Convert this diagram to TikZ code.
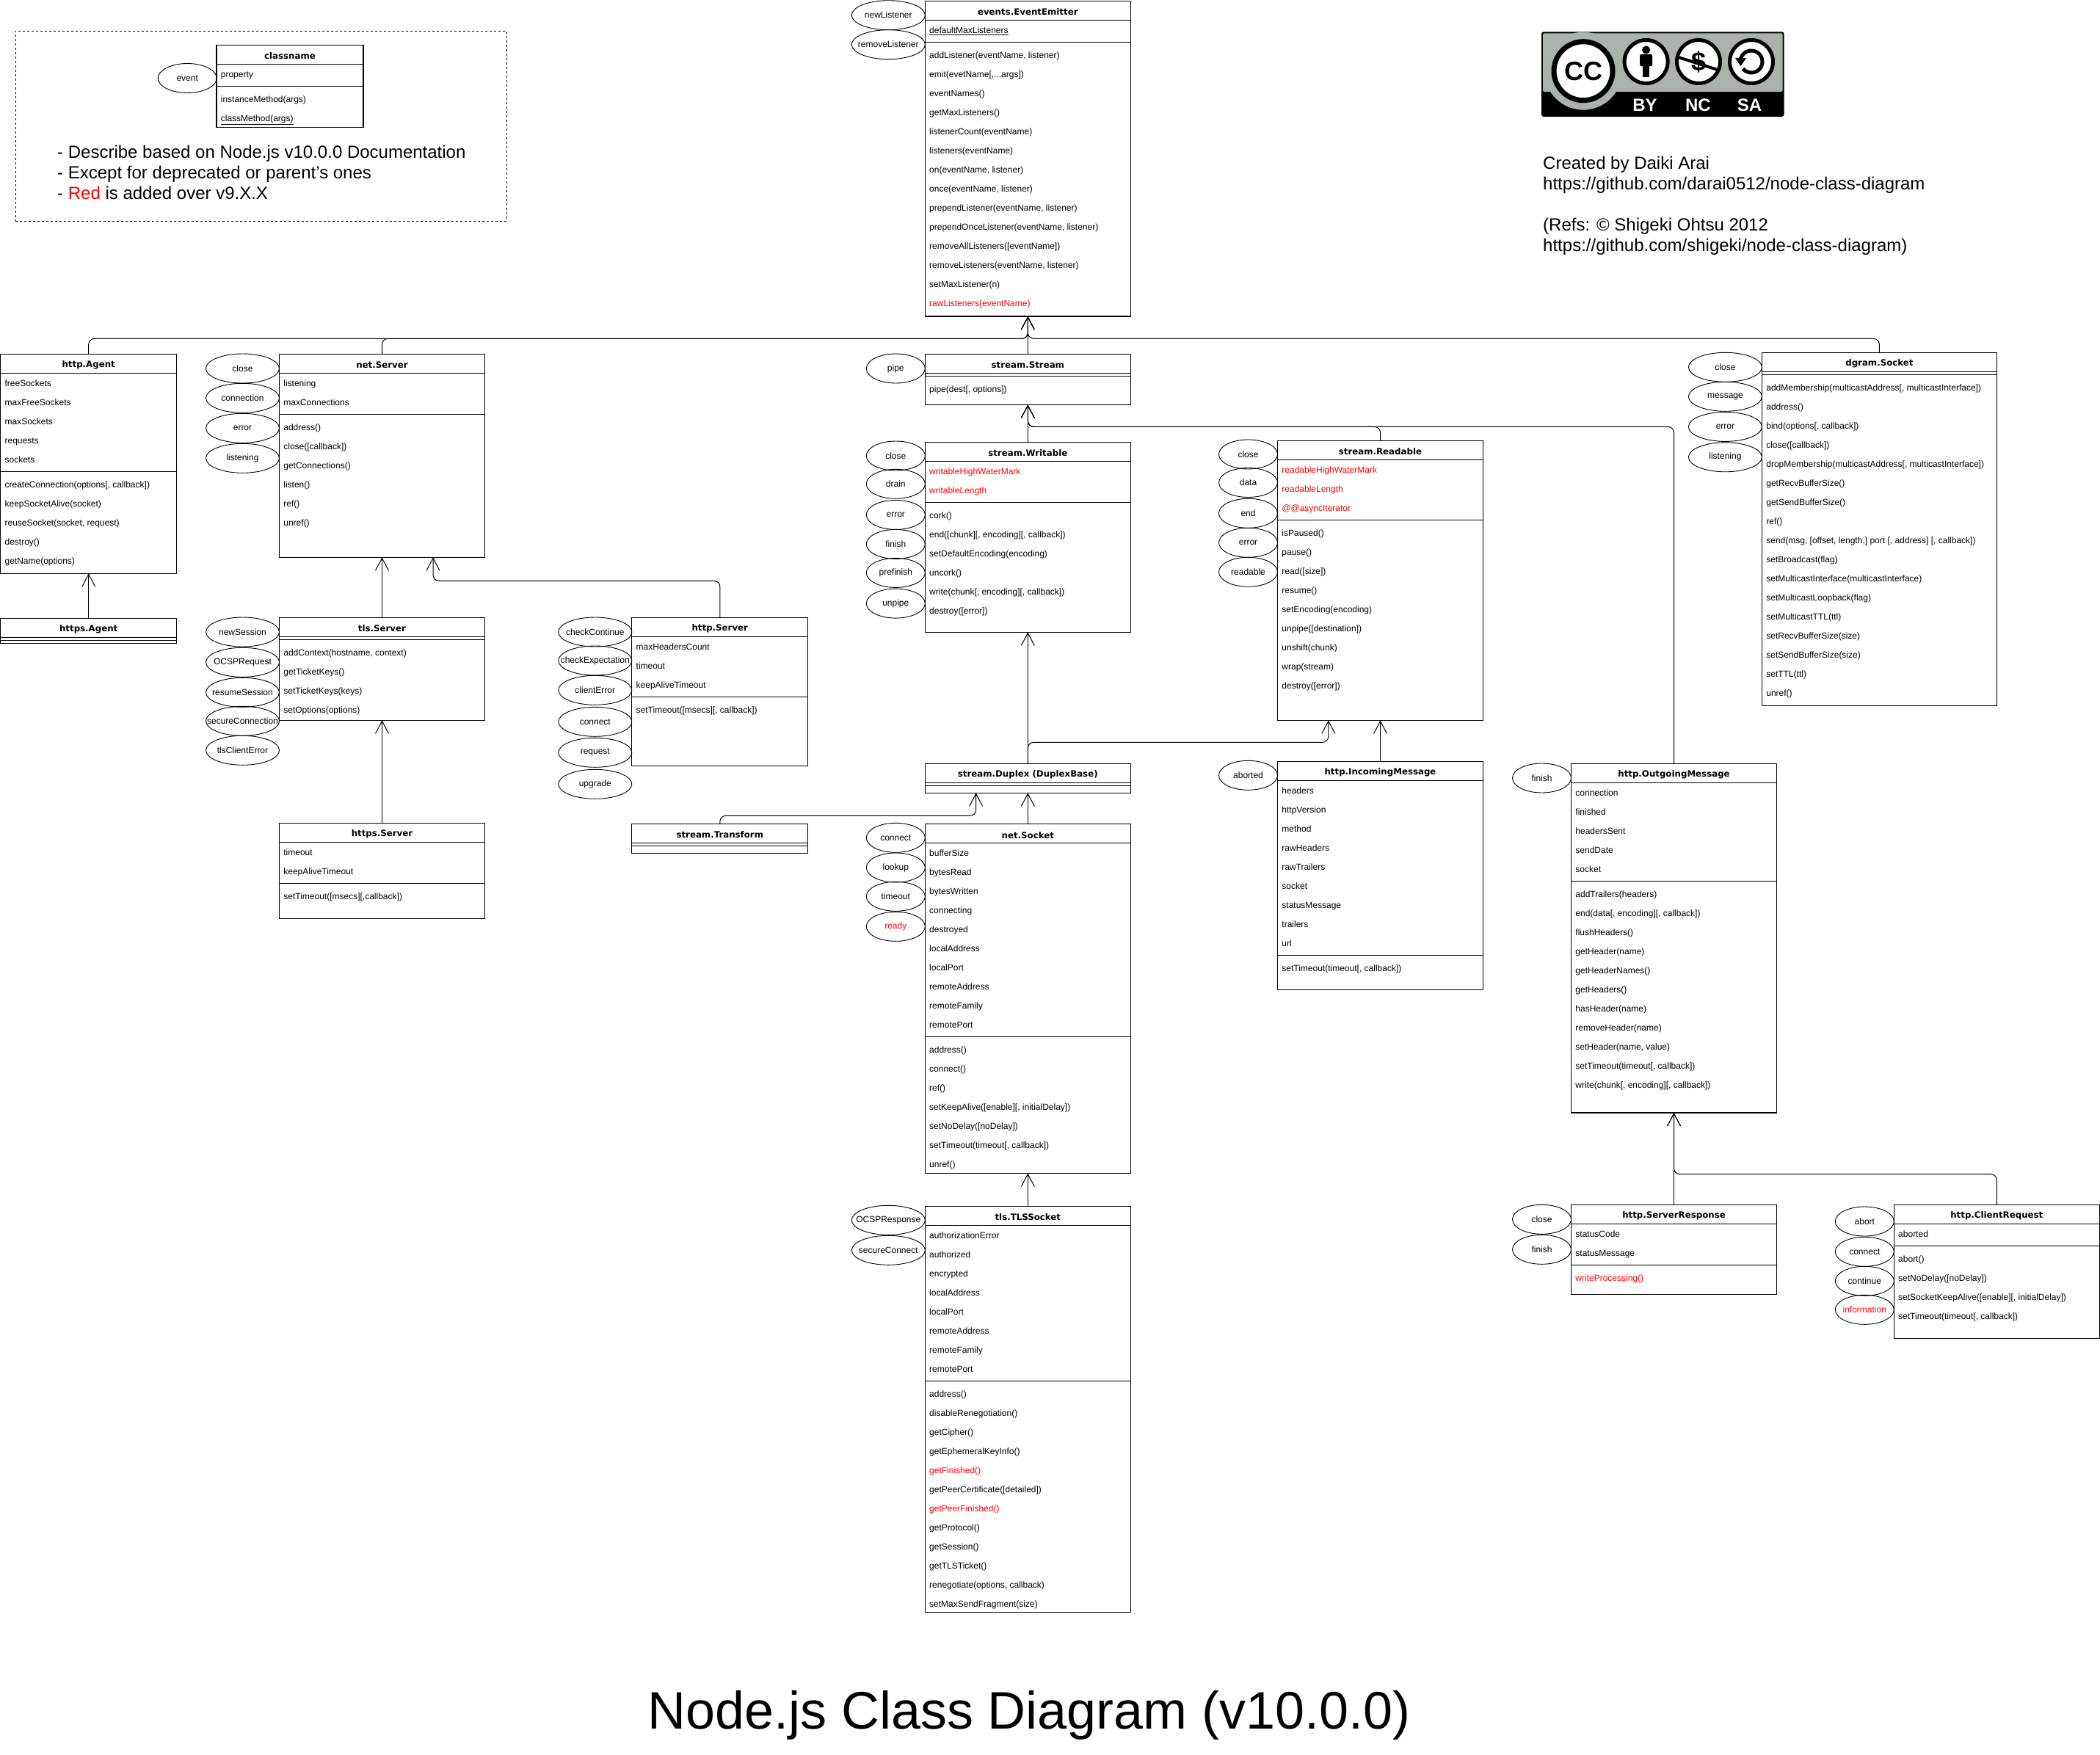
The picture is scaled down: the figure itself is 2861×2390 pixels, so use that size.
\documentclass[tikz,border=0pt]{standalone}
\usepackage{fontspec}
\setmainfont{Liberation Sans}
\newfontfamily\titlefont{DejaVu Sans}
\usetikzlibrary{calc,shapes.geometric,arrows.meta}
\definecolor{ccgray}{HTML}{AAB2AB}
\newcommand{\added}[1]{\textcolor{red}{#1}}
\tikzset{class node/.style={draw,rectangle,anchor=north west,inner sep=0pt,outer sep=0pt,line width=1.1pt},
	class title/.style={inner sep=0pt,font=\titlefont\fontsize{11.8}{14}\selectfont\bfseries},
	class rows/.style={anchor=north west,inner sep=0pt,align=left,font=\fontsize{12}{26}\selectfont,execute at begin node=\rule{0pt}{9pt}},
	class line/.style={line width=1.1pt},
	event node/.style={draw,ellipse,inner sep=0pt,minimum width=100pt,minimum height=40pt,line width=0.9pt,font=\fontsize{12}{14}\selectfont,execute at begin node=\hbox to 0pt\bgroup\hss\lower0.8pt\hbox\bgroup,execute at end node=\egroup\hss\egroup},
	short event/.style={event node,minimum width=80pt},
	inherits/.style={-{Straight Barb[length=17pt,width=18pt]},line width=1pt,rounded corners=8pt},
	big text/.style={inner sep=0pt,anchor=west,align=left,font=\fontsize{24}{28}\selectfont},
	icon ring/.style={draw=black,fill=white,line width=5pt},
}
% name, left, top, width, height, field rows, title, fields, methods
\newcommand{\umlclass}[9]{
	\node[class node,minimum width=#4pt,minimum height=#5pt] (#1) at (#2,#3) {};
	\node[class title] (#1-title) at ($(#1.north)+(0,15)$) {#7};
	\draw[class line] ($(#1.north west)+(0,26)$) -- ++(#4,0);
	\draw[class line] ($(#1.north west)+(0,30+26*#6)$) -- ++(#4,0);
	\node[class rows] (#1-fields) at ($(#1.north west)+(5.7,35.2)$) {#8};
	\node[class rows] (#1-methods) at ($(#1.north west)+(5.7,43.2+26*#6)$) {#9};
}

\begin{document}
\begin{tikzpicture}[x=1pt,y=-1pt]
	\useasboundingbox (0,0) rectangle (2861,2390);

	% legend
	\node[draw,dashed,anchor=north west,inner sep=0pt,minimum width=669pt,minimum height=259pt,line width=0.9pt] (legend) at (20.7,41.7) {};
	\umlclass{sample}{295}{61.3}{200}{112}{1}{classname}{property}{instanceMethod(args)\\\underline{classMethod(args)}}
	\node[short event] (sampleEvent) at (255.2,106.5) {event};
	\node[big text] (legendText) at (78,235) {- Describe based on Node.js v10.0.0 Documentation\\- Except for deprecated or parent's ones\\- \added{Red} is added over v9.X.X};

	% classes
	\umlclass{emitter}{1260.3}{1.5}{280}{429.5}{1}{events.EventEmitter}{\underline{defaultMaxListeners}}{addListener(eventName, listener)\\emit(evetName[,...args])\\eventNames()\\getMaxListeners()\\listenerCount(eventName)\\listeners(eventName)\\on(eventName, listener)\\once(eventName, listener)\\prependListener(eventName, listener)\\prependOnceListener(eventName, listener)\\removeAllListeners([eventName])\\removeListeners(eventName, listener)\\setMaxListener(n)\\\added{rawListeners(eventName)}}
	\umlclass{httpAgent}{0.7}{482.3}{240}{299}{5}{http.Agent}{freeSockets\\maxFreeSockets\\maxSockets\\requests\\sockets}{createConnection(options[, callback])\\keepSocketAlive(socket)\\reuseSocket(socket, request)\\destroy()\\getName(options)}
	\umlclass{httpsAgent}{0.7}{842.3}{240}{34}{0}{https.Agent}{}{}
	\umlclass{netServer}{380.5}{482.3}{280}{277}{2}{net.Server}{listening\\maxConnections}{address()\\close([callback])\\getConnections()\\listen()\\ref()\\unref()}
	\umlclass{tlsServer}{380.5}{841.3}{280}{140}{0}{tls.Server}{}{addContext(hostname, context)\\getTicketKeys()\\setTicketKeys(keys)\\setOptions(options)}
	\umlclass{httpsServer}{380.5}{1121.3}{280}{130}{2}{https.Server}{timeout\\keepAliveTimeout}{setTimeout([msecs][,callback])}
	\umlclass{httpServer}{860.8}{841.3}{240}{202}{3}{http.Server}{maxHeadersCount\\timeout\\keepAliveTimeout}{setTimeout([msecs][, callback])}
	\umlclass{transform}{860.8}{1122.3}{240}{40}{0}{stream.Transform}{}{}
	\umlclass{stream}{1260.3}{482.3}{280}{69}{0}{stream.Stream}{}{pipe(dest[, options])}
	\umlclass{writable}{1260.3}{602.3}{280}{259}{2}{stream.Writable}{\added{writableHighWaterMark}\\\added{writableLength}}{cork()\\end([chunk][, encoding][, callback])\\setDefaultEncoding(encoding)\\uncork()\\write(chunk[, encoding][, callback])\\destroy([error])}
	\umlclass{readable}{1740.5}{600.4}{280}{381}{3}{stream.Readable}{\added{readableHighWaterMark}\\\added{readableLength}\\\added{@@asyncIterator}}{isPaused()\\pause()\\read([size])\\resume()\\setEncoding(encoding)\\unpipe([destination])\\unshift(chunk)\\wrap(stream)\\destroy([error])}
	\umlclass{duplex}{1260.3}{1040.3}{280}{40}{0}{stream.Duplex (DuplexBase)}{}{}
	\umlclass{netSocket}{1260.3}{1122.7}{280}{475.7}{10}{net.Socket}{bufferSize\\bytesRead\\bytesWritten\\connecting\\destroyed\\localAddress\\localPort\\remoteAddress\\remoteFamily\\remotePort}{address()\\connect()\\ref()\\setKeepAlive([enable][, initialDelay])\\setNoDelay([noDelay])\\setTimeout(timeout[, callback])\\unref()}
	\umlclass{tlsSocket}{1260.3}{1643.4}{280}{553.4}{8}{tls.TLSSocket}{authorizationError\\authorized\\encrypted\\localAddress\\localPort\\remoteAddress\\remoteFamily\\remotePort}{address()\\disableRenegotiation()\\getCipher()\\getEphemeralKeyInfo()\\\added{getFinished()}\\getPeerCertificate([detailed])\\\added{getPeerFinished()}\\getProtocol()\\getSession()\\getTLSTicket()\\renegotiate(options, callback)\\setMaxSendFragment(size)}
	\umlclass{incoming}{1740.5}{1037.3}{280}{311}{9}{http.IncomingMessage}{headers\\httpVersion\\method\\rawHeaders\\rawTrailers\\socket\\statusMessage\\trailers\\url}{setTimeout(timeout[, callback])}
	\umlclass{outgoing}{2140.5}{1040.3}{280}{475.7}{5}{http.OutgoingMessage}{connection\\finished\\headersSent\\sendDate\\socket}{addTrailers(headers)\\end(data[, encoding][, callback])\\flushHeaders()\\getHeader(name)\\getHeaderNames()\\getHeaders()\\hasHeader(name)\\removeHeader(name)\\setHeader(name, value)\\setTimeout(timeout[, callback])\\write(chunk[, encoding][, callback])}
	\umlclass{serverResponse}{2140.5}{1641.3}{280}{122}{2}{http.ServerResponse}{statusCode\\statusMessage}{\added{writeProcessing()}}
	\umlclass{clientRequest}{2580.3}{1641.3}{280}{182}{1}{http.ClientRequest}{aborted}{abort()\\setNoDelay([noDelay])\\setSocketKeepAlive([enable][, initialDelay])\\setTimeout(timeout[, callback])}
	\umlclass{dgram}{2400.4}{480.3}{320}{481.4}{0}{dgram.Socket}{}{addMembership(multicastAddress[, multicastInterface])\\address()\\bind(options[, callback])\\close([callback])\\dropMembership(multicastAddress[, multicastInterface])\\getRecvBufferSize()\\getSendBufferSize()\\ref()\\send(msg, [offset, length,] port [, address] [, callback])\\setBroadcast(flag)\\setMulticastInterface(multicastInterface)\\setMulticastLoopback(flag)\\setMulticastTTL(ttl)\\setRecvBufferSize(size)\\setSendBufferSize(size)\\setTTL(ttl)\\unref()}

	% events
	\node[event node] (newListener) at (1210.3,20.7) {newListener};
	\node[event node] (removeListener) at (1210.3,60.7) {removeListener};
	\node[event node] (nsClose) at (330.5,502) {close};
	\node[event node] (nsConnection) at (330.5,542.3) {connection};
	\node[event node] (nsError) at (330.5,583.3) {error};
	\node[event node] (nsListening) at (330.5,624.3) {listening};
	\node[event node] (newSession) at (330.5,861) {newSession};
	\node[event node] (ocspRequest) at (330.5,902.3) {OCSPRequest};
	\node[event node] (resumeSession) at (330.5,943.3) {resumeSession};
	\node[event node] (secureConnection) at (330.5,982.3) {secureConnection};
	\node[event node] (tlsClientError) at (330.5,1022.3) {tlsClientError};
	\node[event node] (checkContinue) at (810.8,861) {checkContinue};
	\node[event node] (checkExpectation) at (810.8,900) {checkExpectation};
	\node[event node] (clientError) at (810.8,940.3) {clientError};
	\node[event node] (hsConnect) at (810.8,983.3) {connect};
	\node[event node] (hsRequest) at (810.8,1025.3) {request};
	\node[event node] (hsUpgrade) at (810.8,1068.3) {upgrade};
	\node[short event] (pipe) at (1220.3,502) {pipe};
	\node[short event] (wsClose) at (1220.3,621) {close};
	\node[short event] (wsDrain) at (1220.3,659.3) {drain};
	\node[short event] (wsError) at (1220.3,701.4) {error};
	\node[short event] (wsFinish) at (1220.3,741.4) {finish};
	\node[short event] (wsPrefinish) at (1220.3,780.4) {prefinish};
	\node[short event] (wsUnpipe) at (1220.3,822.1) {unpipe};
	\node[short event] (rsClose) at (1700.5,619) {close};
	\node[short event] (rsData) at (1700.5,657.5) {data};
	\node[short event] (rsEnd) at (1700.5,699.3) {end};
	\node[short event] (rsError) at (1700.5,739.3) {error};
	\node[short event] (rsReadable) at (1700.5,779.3) {readable};
	\node[short event] (imAborted) at (1700.5,1056.3) {aborted};
	\node[short event] (sockConnect) at (1220.3,1141.3) {connect};
	\node[short event] (sockLookup) at (1220.3,1182) {lookup};
	\node[short event] (sockTimeout) at (1220.3,1221.3) {timeout};
	\node[short event,text=red] (sockReady) at (1220.3,1262.3) {ready};
	\node[event node] (ocspResponse) at (1210.3,1662.3) {OCSPResponse};
	\node[event node] (secureConnect) at (1210.3,1703.3) {secureConnect};
	\node[short event] (omFinish) at (2100.5,1060) {finish};
	\node[short event] (srClose) at (2100.5,1661.3) {close};
	\node[short event] (srFinish) at (2100.5,1702.3) {finish};
	\node[short event] (crAbort) at (2540.3,1664) {abort};
	\node[short event] (crConnect) at (2540.3,1705.3) {connect};
	\node[short event] (crContinue) at (2540.3,1745.3) {continue};
	\node[short event,text=red] (crInformation) at (2540.3,1784.3) {information};
	\node[event node] (dgClose) at (2350.4,500.3) {close};
	\node[event node] (dgMessage) at (2350.4,540.3) {message};
	\node[event node] (dgError) at (2350.4,581.4) {error};
	\node[event node] (dgListening) at (2350.4,622.8) {listening};

	% inheritance
	\coordinate (emitterBus) at (1400.3,461.3);
	\coordinate (streamBus) at (1400.3,581.4);
	\coordinate (serverBus) at (590,791.3);
	\coordinate (readableBus) at (1809.8,1011.3);
	\coordinate (duplexBus) at (1329.6,1111.3);
	\coordinate (outgoingBus) at (2280.5,1599.7);
	\draw[inherits] (stream.north) -- (emitter.south);
	\draw[inherits] (httpAgent.north) |- (emitterBus) -- (emitter.south);
	\draw[inherits] (netServer.north) |- (emitterBus) -- (emitter.south);
	\draw[inherits] (dgram.north) |- (emitterBus) -- (emitter.south);
	\draw[inherits] (httpsAgent.north) -- (httpAgent.south);
	\draw[inherits] (tlsServer.north) -- (netServer.south);
	\draw[inherits] (httpsServer.north) -- (tlsServer.south);
	\draw[inherits] (httpServer.north) |- (serverBus) -- (serverBus |- netServer.south);
	\draw[inherits] (writable.north) -- (stream.south);
	\draw[inherits] (readable.north) |- (streamBus) -- (stream.south);
	\draw[inherits] (outgoing.north) |- (streamBus) -- (stream.south);
	\draw[inherits] (duplex.north) -- (writable.south);
	\draw[inherits] (duplex.north) |- (readableBus) -- (readableBus |- readable.south);
	\draw[inherits] (incoming.north) -- (readable.south);
	\draw[inherits] (netSocket.north) -- (duplex.south);
	\draw[inherits] (transform.north) |- (duplexBus) -- (duplexBus |- duplex.south);
	\draw[inherits] (tlsSocket.north) -- (netSocket.south);
	\draw[inherits] (serverResponse.north) -- (outgoing.south);
	\draw[inherits] (clientRequest.north) |- (outgoingBus) -- (outgoing.south);

	% licence badge
	\fill[black,rounded corners=3pt] (2100,43.3) rectangle (2430.5,159);
	\fill[ccgray,rounded corners=2pt] (2102,45.3) rectangle (2428.5,125);
	\fill[ccgray] (2157,96.7) circle[radius=53pt];
	\draw[icon ring,line width=7pt] (2157,96.7) circle[radius=40pt];
	\node[inner sep=0pt,font=\fontsize{36}{36}\selectfont\bfseries] (ccMark) at (2157,97) {CC};
	\draw[icon ring] (2242.6,84) circle[radius=29.5pt];
	\draw[icon ring] (2314,84) circle[radius=29.5pt];
	\draw[icon ring] (2386,84) circle[radius=29.5pt];
	\fill[black] (2242.6,68) circle[radius=5.5pt];
	\fill[black,rounded corners=2pt] (2234,74) rectangle (2251.2,90);
	\fill[black] (2237.8,85) rectangle (2247.4,105);
	\node[inner sep=0pt,font=\fontsize{36}{36}\selectfont\bfseries] (dollarMark) at (2314,84) {\$};
	\draw[black,line width=4pt] (2285,77.5) -- (2343,96);
	\draw[black,line width=5pt] (2371.2,81.4) arc[start angle=170,end angle=-140,radius=15pt];
	\fill[black] (2364,79) -- (2379,79) -- (2371.5,90) -- cycle;
	\node[inner sep=0pt,text=white,font=\fontsize{24}{24}\selectfont\bfseries] (byMark) at (2241,143) {BY};
	\node[inner sep=0pt,text=white,font=\fontsize{24}{24}\selectfont\bfseries] (ncMark) at (2313.4,143) {NC};
	\node[inner sep=0pt,text=white,font=\fontsize{24}{24}\selectfont\bfseries] (saMark) at (2383.5,143) {SA};

	% credits and title
	\node[big text] (credits) at (2102,280) {Created by Daiki Arai\\https://github.com/darai0512/node-class-diagram\\[28pt](Refs: © Shigeki Ohtsu 2012\\https://github.com/shigeki/node-class-diagram)};
	\node[inner sep=0pt,font=\fontsize{71.9}{80}\selectfont] (diagramTitle) at (1402,2337) {Node.js Class Diagram (v10.0.0)};
\end{tikzpicture}
\end{document}
